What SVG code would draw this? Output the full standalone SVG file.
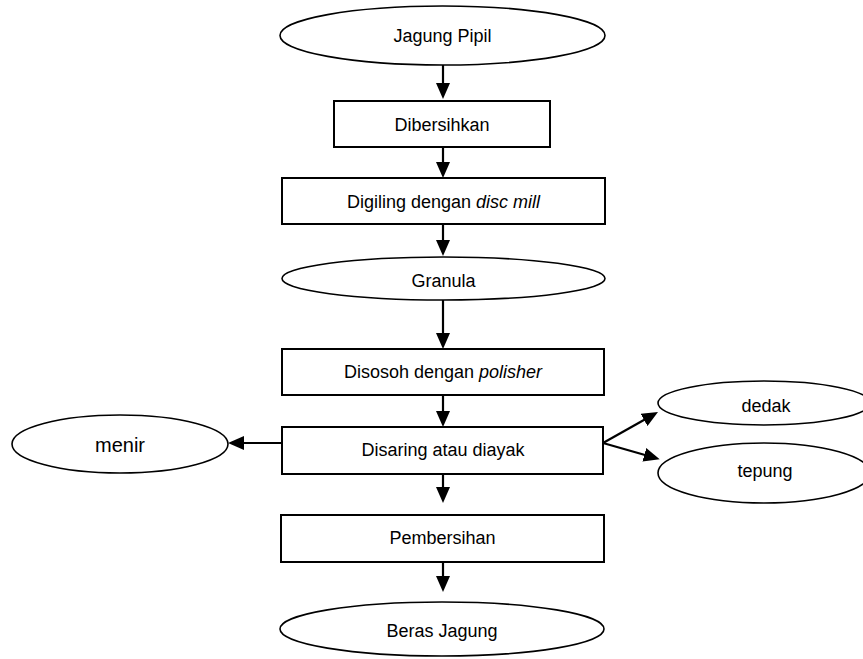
<svg xmlns="http://www.w3.org/2000/svg" width="863" height="659" viewBox="0 0 863 659">
<style>
.bg{fill:#fff}
.box{fill:#fff;stroke:#000;stroke-width:2}
.ell{fill:#fff;stroke:#000;stroke-width:1.6}
.lbl{font-family:"Liberation Sans",Arial,sans-serif;font-size:18px;fill:#000;text-anchor:middle}
.conn{stroke:#000;stroke-width:2.2;fill:none;marker-end:url(#ah)}
</style>
<defs>
<marker id="ah" markerUnits="userSpaceOnUse" markerWidth="16" markerHeight="14" refX="8" refY="7" orient="auto">
<path d="M0,0 L16,7 L0,14 Z" fill="#000"/>
</marker>
</defs>
<rect class="bg" x="0" y="0" width="863" height="659"/>
<g id="connectors">
<line class="conn" x1="443" y1="65" x2="443" y2="91"/>
<line class="conn" x1="443" y1="147" x2="443" y2="170"/>
<line class="conn" x1="443" y1="224" x2="443" y2="248"/>
<line class="conn" x1="443" y1="300" x2="443" y2="341"/>
<line class="conn" x1="443" y1="395" x2="443" y2="419"/>
<line class="conn" x1="443" y1="474" x2="443" y2="495"/>
<line class="conn" x1="443" y1="562" x2="443" y2="584"/>
<line class="conn" x1="282" y1="443" x2="236" y2="443"/>
<line class="conn" x1="603" y1="443" x2="651" y2="416"/>
<line class="conn" x1="603" y1="443" x2="652" y2="457"/>
</g>
<g id="jagung-pipil">
<ellipse class="ell" cx="442.5" cy="35.5" rx="162.5" ry="29.5"/>
<text class="lbl" x="442.5" y="41.5">Jagung Pipil</text>
</g>
<g id="dibersihkan">
<rect class="box" x="334" y="101" width="216" height="46"/>
<text class="lbl" x="442" y="130.5">Dibersihkan</text>
</g>
<g id="digiling">
<rect class="box" x="282" y="178" width="323" height="46"/>
<text class="lbl" x="443.5" y="207.5">Digiling dengan <tspan font-style="italic">disc mill</tspan></text>
</g>
<g id="granula">
<ellipse class="ell" cx="443.5" cy="278.5" rx="161.5" ry="21.5"/>
<text class="lbl" x="443.5" y="287">Granula</text>
</g>
<g id="disosoh">
<rect class="box" x="282" y="349" width="322" height="46"/>
<text class="lbl" x="443" y="377.5">Disosoh dengan <tspan font-style="italic">polisher</tspan></text>
</g>
<g id="disaring">
<rect class="box" x="282" y="427" width="321" height="47"/>
<text class="lbl" x="443" y="455.5">Disaring atau diayak</text>
</g>
<g id="menir">
<ellipse class="ell" cx="120" cy="444" rx="108" ry="29"/>
<text class="lbl" x="120" y="452" style="font-size:20px">menir</text>
</g>
<g id="dedak">
<ellipse class="ell" cx="764" cy="403" rx="106" ry="22"/>
<text class="lbl" x="766" y="412">dedak</text>
</g>
<g id="tepung">
<ellipse class="ell" cx="764" cy="473" rx="106" ry="30"/>
<text class="lbl" x="765" y="477">tepung</text>
</g>
<g id="pembersihan">
<rect class="box" x="281" y="515" width="323" height="47"/>
<text class="lbl" x="442.5" y="544">Pembersihan</text>
</g>
<g id="beras-jagung">
<ellipse class="ell" cx="442" cy="629" rx="162" ry="27"/>
<text class="lbl" x="442" y="637">Beras Jagung</text>
</g>
</svg>
